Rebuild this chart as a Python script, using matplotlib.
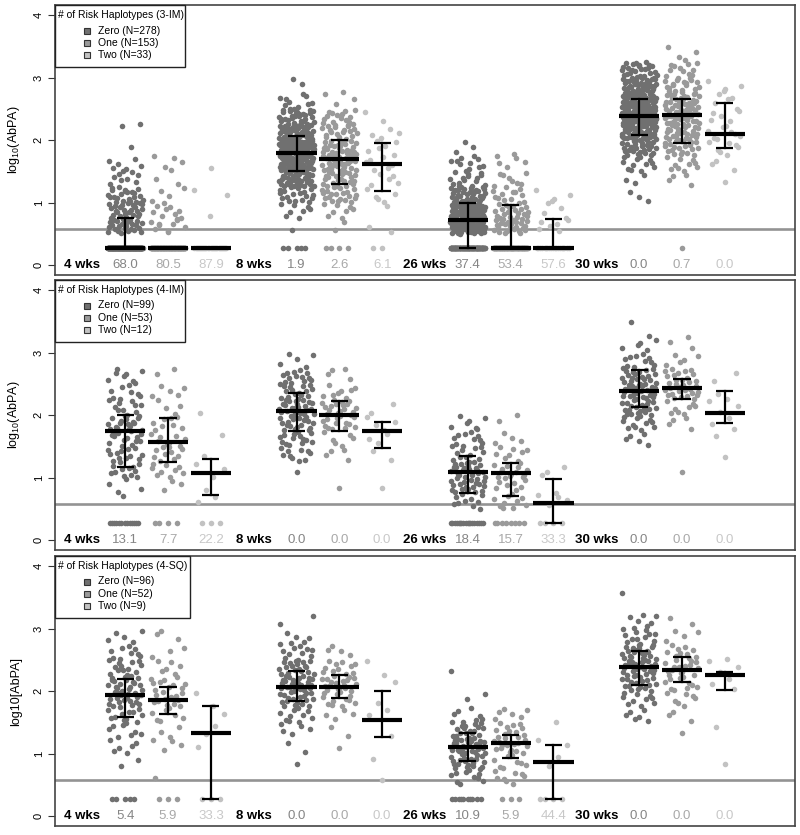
import matplotlib
matplotlib.use("Agg")
from matplotlib import pyplot as plt
from matplotlib.patches import Rectangle

plt.rcParams['font.family'] = ['Liberation Sans', 'DejaVu Sans']
plt.rcParams['mathtext.fontset'] = 'custom'
plt.rcParams['mathtext.rm'] = 'Liberation Sans'

weeks = ["4 wks", "8 wks", "26 wks", "30 wks"]
groups = ["Zero", "One", "Two"]

# value bins (log10 AbPA) used to hold the point counts
bin_edges = [0.5, 0.75, 1.0, 1.25, 1.5, 1.75, 2.0, 2.25, 2.5, 2.75, 3.0, 3.25, 3.5, 3.75]
floor_val = 0.27    # value of the undetectable samples
lod_val = 0.57      # grey reference line

# ---- panel 1 : 3-IM
p1_title = "# of Risk Haplotypes (3-IM)"
p1_n = [278, 153, 33]
p1_pct = [[68.0, 80.5, 87.9], [1.9, 2.6, 6.1], [37.4, 53.4, 57.6], [0.0, 0.7, 0.0]]
p1_med = [[0.27, 0.27, 0.27], [1.80, 1.70, 1.61], [0.72, 0.27, 0.27], [2.38, 2.40, 2.10]]
p1_q1 = [[0.27, 0.27, 0.27], [1.50, 1.29, 1.19], [0.27, 0.27, 0.27], [2.08, 1.96, 1.88]]
p1_q3 = [[0.75, 0.27, 0.27], [2.06, 2.00, 1.95], [1.00, 0.96, 0.73], [2.66, 2.65, 2.60]]
p1_counts = [
    [[25, 25, 22, 8, 7, 1, 1, 1, 0, 0, 0, 0, 0],
     [10, 9, 4, 2, 5, 0, 0, 0, 0, 0, 0, 0, 0],
     [0, 1, 2, 0, 1, 0, 0, 0, 0, 0, 0, 0, 0]],
    [[1, 8, 18, 35, 58, 66, 45, 30, 10, 2, 0, 0, 0],
     [2, 8, 20, 22, 30, 28, 20, 15, 3, 1, 0, 0, 0],
     [2, 1, 5, 5, 6, 6, 4, 2, 0, 0, 0, 0, 0]],
    [[60, 50, 35, 15, 11, 3, 0, 0, 0, 0, 0, 0, 0],
     [25, 20, 12, 8, 5, 1, 0, 0, 0, 0, 0, 0, 0],
     [6, 4, 4, 0, 0, 0, 0, 0, 0, 0, 0, 0, 0]],
    [[0, 0, 3, 3, 12, 25, 55, 65, 50, 40, 25, 0, 0],
     [0, 0, 0, 4, 10, 20, 25, 30, 28, 20, 11, 4, 0],
     [0, 0, 0, 1, 3, 7, 8, 5, 5, 4, 0, 0, 0]],
]

# ---- panel 2 : 4-IM
p2_title = "# of Risk Haplotypes (4-IM)"
p2_n = [99, 53, 12]
p2_pct = [[13.1, 7.7, 22.2], [0.0, 0.0, 0.0], [18.4, 15.7, 33.3], [0.0, 0.0, 0.0]]
p2_med = [[1.74, 1.57, 1.07], [2.07, 2.00, 1.74], [1.09, 1.08, 0.60], [2.39, 2.43, 2.03]]
p2_q1 = [[1.17, 1.25, 0.72], [1.75, 1.75, 1.48], [0.76, 0.70, 0.27], [2.13, 2.25, 1.88]]
p2_q3 = [[2.00, 1.96, 1.30], [2.35, 2.22, 1.89], [1.35, 1.24, 0.98], [2.72, 2.58, 2.38]]
p2_counts = [
    [[1, 4, 12, 12, 14, 17, 10, 8, 8, 0, 0, 0, 0],
     [0, 3, 9, 10, 8, 8, 4, 5, 2, 0, 0, 0, 0],
     [2, 1, 3, 1, 1, 0, 1, 0, 0, 0, 0, 0, 0]],
    [[0, 0, 1, 10, 14, 18, 22, 16, 13, 5, 0, 0, 0],
     [0, 1, 0, 4, 6, 13, 17, 8, 4, 0, 0, 0, 0],
     [0, 1, 0, 2, 3, 4, 2, 0, 0, 0, 0, 0, 0]],
    [[10, 20, 22, 12, 10, 7, 0, 0, 0, 0, 0, 0, 0],
     [10, 8, 13, 8, 4, 2, 0, 0, 0, 0, 0, 0, 0],
     [4, 1, 3, 0, 0, 0, 0, 0, 0, 0, 0, 0, 0]],
    [[0, 0, 0, 0, 5, 12, 20, 25, 20, 10, 5, 2, 0],
     [0, 0, 1, 0, 0, 4, 8, 18, 14, 5, 3, 0, 0],
     [0, 0, 0, 1, 1, 3, 3, 2, 2, 0, 0, 0, 0]],
]

# ---- panel 3 : 4-SQ
p3_title = "# of Risk Haplotypes (4-SQ)"
p3_n = [96, 52, 9]
p3_pct = [[5.4, 5.9, 33.3], [0.0, 0.0, 0.0], [10.9, 5.9, 44.4], [0.0, 0.0, 0.0]]
p3_med = [[1.94, 1.86, 1.33], [2.07, 2.06, 1.53], [1.10, 1.17, 0.86], [2.39, 2.34, 2.25]]
p3_q1 = [[1.58, 1.64, 0.27], [1.84, 1.89, 1.26], [0.88, 0.93, 0.27], [2.10, 2.14, 2.02]]
p3_q3 = [[2.19, 2.06, 1.76], [2.32, 2.25, 2.00], [1.33, 1.30, 1.13], [2.64, 2.54, 2.30]]
p3_counts = [
    [[0, 2, 6, 8, 12, 18, 18, 13, 9, 5, 0, 0, 0],
     [1, 0, 4, 3, 7, 12, 10, 6, 3, 3, 0, 0, 0],
     [0, 0, 1, 2, 1, 2, 0, 0, 0, 0, 0, 0, 0]],
    [[0, 1, 2, 5, 10, 18, 24, 18, 11, 5, 2, 0, 0],
     [0, 0, 1, 2, 4, 12, 18, 11, 4, 0, 0, 0, 0],
     [1, 1, 0, 1, 2, 1, 1, 2, 0, 0, 0, 0, 0]],
    [[10, 20, 28, 18, 7, 2, 0, 1, 0, 0, 0, 0, 0],
     [8, 8, 15, 12, 6, 0, 0, 0, 0, 0, 0, 0, 0],
     [0, 2, 2, 0, 1, 0, 0, 0, 0, 0, 0, 0, 0]],
    [[0, 0, 0, 0, 6, 10, 18, 22, 20, 12, 7, 0, 1],
     [0, 0, 0, 1, 3, 7, 10, 15, 10, 4, 2, 0, 0],
     [0, 1, 0, 1, 0, 0, 3, 3, 1, 0, 0, 0, 0]],
]

point_cols = ['#707070', '#9a9a9a', '#c2c2c2']
text_cols = ['#858585', '#a8a8a8', '#c8c8c8']


def vdc(n, base):
    # van der Corput sequence, used to spread the points (jitter) evenly
    q, denom = 0.0, 1.0
    while n:
        denom *= base
        n, r = divmod(n, base)
        q += r / denom
    return q


def draw_panel(ax, title, n, pct, med, q1, q3, counts, ylabel, box_w):
    jit = 0.82
    ax.axhline(lod_val, color='#939393', lw=1.9, zorder=1)
    for w in range(4):
        base = 4 * w
        ax.text(base, 0, weeks[w], ha='center', va='center', fontweight='bold', fontsize=9.5)
        for g in range(3):
            xc = base + g + 1
            xs, ys = [], []
            j = 1
            nfloor = int(round(pct[w][g] * n[g] / 100))
            for k in range(nfloor):
                xs.append(xc + (vdc(j, 2) - 0.5) * jit)
                ys.append(floor_val)
                j += 1
            for b, c in enumerate(counts[w][g]):
                lo, hi = bin_edges[b], bin_edges[b + 1]
                for k in range(c):
                    xs.append(xc + (vdc(j, 2) - 0.5) * jit)
                    ys.append(lo + vdc(j, 3) * (hi - lo))
                    j += 1
            ax.scatter(xs, ys, s=16, color=point_cols[g], linewidths=0, zorder=2)
            ax.plot([xc - 0.47, xc + 0.47], [med[w][g]] * 2, color='k', lw=3, zorder=4,
                    solid_capstyle='butt')
            if q3[w][g] > q1[w][g]:
                ax.plot([xc, xc], [q1[w][g], q3[w][g]], color='k', lw=1.6, zorder=4)
                for v in (q1[w][g], q3[w][g]):
                    ax.plot([xc - 0.2, xc + 0.2], [v, v], color='k', lw=1.6, zorder=4,
                            solid_capstyle='butt')
            ax.text(xc, 0, "%.1f" % pct[w][g], ha='center', va='center', fontsize=9.5,
                    color=text_cols[g])

    ax.set_xlim(-0.64, 16.64)
    ax.set_ylim(-0.16, 4.16)
    ax.set_xticks([])
    ax.set_yticks([0, 1, 2, 3, 4])
    ax.set_yticklabels(['0', '1', '2', '3', '4'], rotation=90, va='center')
    ax.tick_params(axis='y', length=5, width=0.8, pad=3, labelsize=8, color='#333')
    for s in ax.spines.values():
        s.set_color('#444')
        s.set_linewidth(1.2)
    ax.set_ylabel(ylabel, fontsize=9)
    ax.yaxis.set_label_coords(-0.045, 0.5)

    # legend box, drawn in axes fractions
    W, H = 740.0, 270.0
    ax.add_patch(Rectangle((0, 1 - 62 / H), box_w / W, 62 / H, transform=ax.transAxes,
                           facecolor='white', edgecolor='#222', lw=1, zorder=5, clip_on=False))
    ax.text(3 / W, 1 - 10 / H, title, transform=ax.transAxes, ha='left', va='center',
            fontsize=7.5, zorder=6)
    for g in range(3):
        yy = 1 - (25.5 + 12.3 * g) / H
        ax.plot([32 / W], [yy], marker='s', ms=4.5, mfc=point_cols[g], mec='#333', mew=0.8,
                transform=ax.transAxes, zorder=6, clip_on=False)
        ax.text(43 / W, yy, "%s (N=%d)" % (groups[g], n[g]), transform=ax.transAxes,
                ha='left', va='center', fontsize=7.5, zorder=6)


fig = plt.figure(figsize=(8, 8.35), dpi=100)
ax1 = fig.add_axes([55 / 800, (835 - 275) / 835, 740 / 800, 270 / 835])
ax2 = fig.add_axes([55 / 800, (835 - 550) / 835, 740 / 800, 270 / 835])
ax3 = fig.add_axes([55 / 800, (835 - 826) / 835, 740 / 800, 270 / 835])

draw_panel(ax1, p1_title, p1_n, p1_pct, p1_med, p1_q1, p1_q3, p1_counts, 'log$_{10}$(AbPA)', 130)
draw_panel(ax2, p2_title, p2_n, p2_pct, p2_med, p2_q1, p2_q3, p2_counts, 'log$_{10}$(AbPA)', 130)
draw_panel(ax3, p3_title, p3_n, p3_pct, p3_med, p3_q1, p3_q3, p3_counts, 'log10[AbPA]', 135)

fig.savefig("out.png", dpi=100)
